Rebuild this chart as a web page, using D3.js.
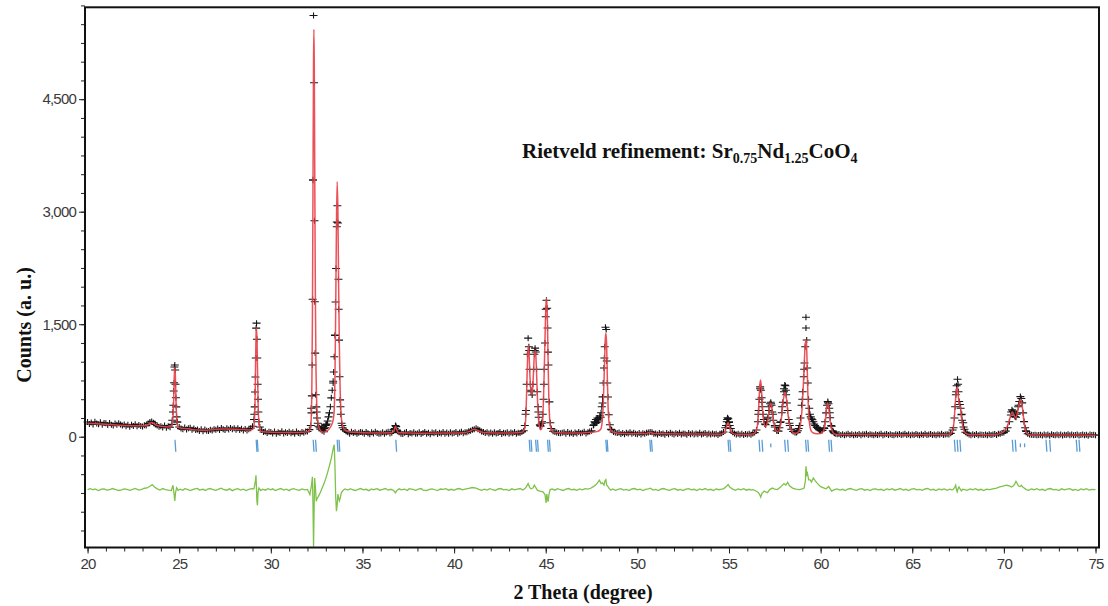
<!DOCTYPE html>
<html><head><meta charset="utf-8">
<script src="https://cdn.jsdelivr.net/npm/d3@7"></script>
<style>html,body{margin:0;padding:0;background:#fff;}svg{display:block}</style>
</head><body>
<svg id="c" width="1108" height="606"></svg>
<script>
// ---------- DATA ----------
const xMajorTicks = [20,25,30,35,40,45,50,55,60,65,70,75];
const yMajorTicks = [0,1500,3000,4500];
const xLabel = "2 Theta (degree)";
const yLabel = "Counts (a. u.)";
const annotationParts = [["Rietveld refinement: Sr",0],["0.75",1],["Nd",0],["1.25",1],["CoO",0],["4",1]];

// observed counts, regular grid 20.0 .. 75.0 step 0.1
const obsStart = 20.0, obsStep = 0.1;
const obsCounts = [
196,170,188,162,198,176,166,192,160,184,
178,156,182,160,150,176,158,180,164,148,
164,140,158,134,160,144,166,138,156,142,
136,152,148,176,196,204,186,162,148,134,
140,124,148,120,138,126,165,610,700,195,
130,108,100,122,96,112,118,92,110,90,
96,76,100,72,96,80,76,94,82,98,
92,110,88,116,98,90,112,96,116,100,
112,94,114,88,106,84,104,82,100,112,
140,300,1450,500,130,88,62,70,48,66,
62,44,70,40,58,48,72,42,60,50,
66,46,58,38,70,50,44,64,52,68,
70,95,380,3420,1800,330,140,100,80,110,
150,210,320,520,740,1350,2800,1700,400,150,
95,72,58,40,66,48,60,38,54,62,
56,38,64,46,34,58,42,66,50,40,
44,60,38,56,66,42,54,95,146,75,
58,40,36,54,62,34,50,44,60,38,
42,58,36,50,64,40,52,34,56,46,
60,36,52,44,62,38,56,40,58,44,
48,62,40,56,66,46,60,58,72,80,
92,100,112,98,86,70,64,50,58,42,
56,38,60,42,50,64,36,54,46,58,
40,56,46,62,38,54,48,64,80,300,
1100,1150,620,700,1150,900,330,150,200,700,
1700,1450,465,110,72,62,55,50,46,52,
58,40,62,44,52,36,56,42,64,46,
54,66,44,60,70,78,150,190,230,210,
260,450,1050,1430,530,160,90,62,55,50,
56,36,50,32,54,44,60,38,52,40,
34,50,30,46,38,52,56,64,58,40,
44,28,50,36,42,26,48,34,52,38,
30,46,36,52,28,44,38,26,48,34,
46,30,42,34,52,28,40,48,30,44,
28,44,32,40,24,38,46,62,120,230,
200,110,60,44,30,40,26,38,24,36,
28,40,26,44,55,90,300,640,460,230,
160,240,400,440,300,150,80,75,190,400,
640,620,350,180,100,70,55,60,110,250,
500,900,1450,717,300,240,200,150,125,100,
80,85,110,318,460,320,140,65,40,32,
36,22,34,20,30,38,24,32,18,30,
24,36,20,32,28,38,22,34,26,18,
34,22,30,38,20,28,36,24,32,22,
20,34,26,36,22,30,38,24,32,20,
30,22,36,26,18,32,24,38,22,28,
36,24,30,20,34,26,38,22,28,34,
30,45,90,250,600,700,430,300,130,60,
44,28,20,32,24,36,18,30,26,22,
30,20,34,24,28,36,22,38,40,48,
55,75,120,200,330,340,270,300,420,535,
451,200,80,40,28,25,22,26,20,24,
26,16,30,20,28,14,32,22,18,28,
20,30,16,26,22,32,18,28,20,24,
28,16,24,30,18,26,14,30,22,26,
20
];

// extra observed points on the peaks [2theta, counts]
const obsPeakPts = [
[24.62,220],[24.66,330],[24.68,420],[24.72,720],[24.74,930],[24.76,956],[24.78,889],[24.82,520],[24.84,398],[24.86,265],[24.88,200],
[29.08,230],[29.12,398],[29.14,597],[29.16,797],[29.18,1049],[29.2,1447],[29.22,1514],[29.24,1300],[29.26,1049],[29.28,700],[29.3,500],[29.32,330],[29.35,200],
[32.18,150],[32.22,318],[32.24,544],[32.26,956],[32.28,1832],[32.3,3425],[32.33,5615],[32.36,4720],[32.38,2880],[32.4,1800],[32.42,1115],[32.45,560],[32.48,398],[32.52,250],[32.56,180],[32.6,140],[32.66,120],[32.72,100],[32.78,133],[32.84,90],[32.9,67],
[32.96,120],[33.0,160],[33.05,170],[33.1,210],[33.15,265],[33.2,318],[33.25,400],[33.3,518],[33.35,620],[33.4,717],[33.43,863],[33.46,1066],[33.5,1354],[33.53,1796],[33.56,2243],[33.6,2863],[33.63,3080],[33.66,2850],[33.69,2100],[33.72,1288],[33.75,800],[33.78,491],[33.82,300],[33.86,180],[33.92,120],
[36.76,110],[36.8,150],[36.84,135],[36.88,90],
[43.86,150],[43.92,350],[43.96,700],[44.0,1100],[44.04,1314],[44.08,1200],[44.12,900],[44.16,700],[44.2,600],[44.26,557],[44.3,700],[44.34,900],[44.38,1100],[44.42,1181],[44.46,1130],[44.5,900],[44.54,600],[44.58,400],[44.62,260],[44.68,160],[44.72,140],[44.78,180],[44.84,300],[44.88,500],[44.92,900],[44.96,1250],[45.0,1600],[45.04,1820],[45.08,1712],[45.12,1128],[45.15,956],[45.2,465],[45.25,186],[45.3,110],
[47.62,160],[47.66,200],[47.7,180],[47.74,230],[47.78,190],[47.82,250],[47.86,210],[47.9,240],[47.95,280],[48.02,320],[48.06,400],[48.1,531],[48.14,717],[48.18,916],[48.22,1200],[48.26,1460],[48.3,1430],[48.33,1009],[48.36,717],[48.4,530],[48.44,292],[48.5,160],[48.56,100],
[54.84,150],[54.88,200],[54.92,252],[54.96,240],[55.0,190],[55.04,150],[55.08,110],
[56.5,90],[56.58,200],[56.62,350],[56.66,500],[56.7,664],[56.74,620],[56.78,520],[56.82,400],[56.86,300],[56.9,230],[56.96,170],[57.0,159],[57.06,200],[57.12,260],[57.18,350],[57.24,440],[57.28,460],[57.32,420],[57.36,330],[57.42,220],[57.5,130],[57.6,80],[57.68,75],[57.75,120],[57.82,200],[57.88,320],[57.94,460],[58.0,600],[58.04,690],[58.08,680],[58.12,560],[58.16,450],[58.2,350],[58.26,230],[58.32,150],[58.4,100],[58.5,70],[58.6,55],[58.68,55],[58.76,80],[58.84,150],[58.9,250],[58.96,420],[59.02,600],[59.08,800],[59.12,982],[59.16,1200],[59.2,1593],[59.24,1290],[59.27,916],[59.3,717],[59.34,500],[59.38,380],[59.42,300],[59.46,265],[59.5,240],[59.55,226],[59.6,200],[59.65,170],[59.7,150],[59.78,130],[59.86,110],[59.94,90],[60.02,80],[60.1,85],[60.18,120],[60.24,200],[60.3,318],[60.35,420],[60.39,469],[60.43,440],[60.47,380],[60.52,252],[60.58,150],[60.66,80],[60.74,50],
[67.25,120],[67.3,250],[67.34,400],[67.38,560],[67.42,680],[67.47,766],[67.52,600],[67.56,469],[67.6,430],[67.64,380],[67.68,292],[67.72,220],[67.78,186],[67.85,100],[67.92,60],
[70.2,120],[70.3,200],[70.38,290],[70.44,358],[70.5,340],[70.55,318],[70.6,270],[70.66,260],[70.72,320],[70.78,400],[70.84,470],[70.9,535],[70.95,510],[71.0,451],[71.05,318],[71.1,203],[71.16,120],[71.22,70],[71.3,40]
];

// calculated profile [2theta, counts]
const calcPts = [
[20.0,180],[21,166],[22,150],[23,145],[23.3,160],[23.5,190],[23.7,160],[24,138],[24.5,130],[24.6,150],[24.66,260],[24.7,500],[24.73,800],[24.76,925],[24.79,820],[24.83,450],[24.87,220],[24.92,140],[25.0,118],[25.5,105],[26,88],[26.5,86],[27,98],[27.5,102],[28,100],[28.5,95],[28.9,90],
[29.05,110],[29.1,200],[29.14,500],[29.17,1000],[29.2,1400],[29.22,1447],[29.25,1250],[29.28,800],[29.31,400],[29.35,180],[29.4,100],[29.5,68],[30,58],[31,55],[31.5,56],
[32.0,65],[32.1,80],[32.15,110],[32.2,220],[32.24,700],[32.27,1600],[32.3,3300],[32.33,5000],[32.35,5430],[32.37,5000],[32.4,3300],[32.43,1900],[32.46,1000],[32.5,480],[32.55,240],[32.62,130],[32.7,85],[32.8,62],[32.9,60],[33.0,70],[33.1,85],[33.2,110],[33.3,150],[33.38,200],[33.45,320],[33.5,800],[33.54,1700],[33.58,2800],[33.62,3400],[33.66,3000],[33.7,2000],[33.74,1200],[33.78,650],[33.83,320],[33.9,160],[34.0,100],[34.2,70],[34.5,58],
[35,52],[36,50],[36.6,52],[36.72,80],[36.8,140],[36.86,100],[36.95,55],[37.5,48],[38.5,47],[39.5,48],[40.5,54],[40.8,68],[41.1,98],[41.4,70],[41.8,52],[42.5,48],[43.2,49],[43.7,58],
[43.85,110],[43.92,300],[43.97,700],[44.01,1050],[44.05,1221],[44.09,1100],[44.14,800],[44.2,600],[44.26,560],[44.32,800],[44.37,1050],[44.42,1150],[44.46,1080],[44.5,850],[44.55,500],[44.6,250],[44.66,130],[44.72,93],[44.78,110],[44.84,250],[44.9,700],[44.96,1300],[45.01,1750],[45.05,1845],[45.09,1600],[45.13,1000],[45.17,500],[45.22,220],[45.28,110],[45.35,75],[45.5,55],
[46.5,48],[47,50],[47.5,58],[47.8,68],[48.0,100],[48.08,200],[48.14,450],[48.2,900],[48.25,1300],[48.28,1380],[48.32,1250],[48.36,800],[48.4,420],[48.45,200],[48.52,110],[48.6,70],[49,46],
[50,40],[50.5,42],[50.65,58],[50.75,55],[50.9,42],[51.5,38],[52.5,37],[53.5,37],[54,35],[54.5,33],[54.75,50],[54.85,120],[54.92,180],[54.96,186],[55.0,165],[55.08,90],[55.2,45],[55.4,32],[56.0,31],[56.3,35],
[56.45,60],[56.55,150],[56.62,400],[56.68,680],[56.72,757],[56.76,680],[56.82,420],[56.88,240],[56.95,150],[57.02,140],[57.1,200],[57.18,330],[57.25,440],[57.29,451],[57.34,380],[57.42,220],[57.5,120],[57.6,70],[57.68,65],[57.76,100],[57.85,220],[57.93,420],[58.0,540],[58.06,588],[58.12,540],[58.2,350],[58.28,190],[58.38,100],[58.5,55],[58.65,45],[58.8,70],[58.9,160],[58.98,350],[59.06,700],[59.12,1050],[59.18,1288],[59.22,1280],[59.26,1000],[59.3,600],[59.35,300],[59.42,130],[59.5,70],[59.6,50],[59.8,40],[60.0,42],[60.15,70],[60.25,180],[60.32,380],[60.38,451],[60.44,400],[60.5,250],[60.58,120],[60.68,55],[60.8,32],[61.0,29],
[62,28],[63,28],[64,27],[65,27],[66,28],[66.9,29],[67.1,40],[67.2,80],[67.28,200],[67.35,450],[67.42,640],[67.47,660],[67.52,520],[67.57,430],[67.62,400],[67.67,300],[67.74,160],[67.82,80],[67.95,40],[68.2,27],[69,26],[69.6,29],
[69.8,45],[70.0,70],[70.15,120],[70.3,220],[70.4,310],[70.47,330],[70.55,290],[70.65,250],[70.75,330],[70.85,460],[70.92,500],[70.98,450],[71.05,300],[71.12,160],[71.2,70],[71.3,35],[71.5,23],[72,22],[73,22],[74,22],[75,21]
];

// difference curve (obs - calc), drawn at an offset
const diffOffset = -705;
const diffPts = [
[20.0,0],[20.15,12],[20.3,-4],[20.4,8],[20.6,-14],[20.75,6],[20.9,10],[21.05,-8],[21.2,-2],[21.35,14],[21.5,4],[21.7,-12],[21.85,-4],[22.0,10],[22.15,2],[22.3,-10],[22.5,6],[22.6,16],[22.8,-6],[22.95,4],[23.1,18],[23.25,22],[23.4,45],[23.53,66],[23.65,35],[23.8,10],[23.95,-6],[24.1,14],[24.25,0],[24.4,-8],[24.57,-14],[24.66,58],[24.72,-60],[24.76,-150],[24.8,-40],[24.86,25],[24.94,-10],
[25.05,6],[25.2,-10],[25.3,12],[25.45,2],[25.6,-14],[25.7,-4],[25.85,10],[26.0,16],[26.1,-6],[26.3,4],[26.45,-12],[26.55,8],[26.7,14],[26.85,-2],[27.0,-10],[27.15,6],[27.3,18],[27.4,4],[27.6,-8],[27.75,10],[27.9,-14],[28.05,2],[28.2,12],[28.35,-6],[28.5,6],[28.65,-12],[28.8,4],[28.95,14],
[29.08,10],[29.16,120],[29.19,190],[29.21,60],[29.24,-150],[29.27,-210],[29.3,-40],[29.35,20],[29.45,-12],[29.55,6],[29.7,-8],[29.85,12],[30.0,-4],[30.1,10],[30.25,-12],[30.4,2],[30.55,14],[30.7,-6],[30.85,6],[31.0,-14],[31.1,4],[31.25,12],[31.4,-2],[31.55,-10],[31.7,8],[31.85,-4],[32.0,2],
[32.13,-66],[32.22,60],[32.27,170],[32.3,-200],[32.33,-760],[32.36,-300],[32.39,155],[32.43,40],[32.48,-155],[32.52,-120],[32.6,-90],[32.7,-40],[32.8,20],[32.9,80],[33.0,150],[33.1,230],[33.2,320],[33.3,420],[33.38,520],[33.43,575],[33.46,597],[33.5,300],[33.54,-100],[33.58,-288],[33.62,-200],[33.66,-60],[33.7,-110],[33.74,-150],[33.78,-120],[33.85,-40],[33.95,-9],
[34.05,8],[34.2,-6],[34.35,12],[34.45,-2],[34.6,-12],[34.8,6],[34.9,14],[35.05,-4],[35.2,4],[35.35,-14],[35.5,8],[35.6,-2],[35.8,12],[35.95,-8],[36.1,2],[36.25,14],[36.4,-6],[36.55,4],[36.7,-12],[36.8,-44],[36.88,-12],[37.0,10],[37.12,-4],[37.3,6],[37.45,-12],[37.55,12],[37.75,2],[37.9,-10],[38.05,6],[38.2,14],[38.3,-6],[38.5,-12],[38.65,4],[38.8,10],[38.95,-2],[39.1,-14],[39.25,8],[39.4,2],[39.55,12],[39.7,-8],[39.85,4],[40.0,-10],[40.15,8],[40.3,14],[40.45,-4],[40.6,6],[40.8,16],[41.0,28],[41.2,20],[41.35,4],[41.5,-10],[41.65,6],[41.8,-6],[41.95,12],[42.1,-2],[42.25,-12],[42.4,8],[42.55,14],[42.7,-4],[42.85,2],[43.0,-12],[43.15,10],[43.3,-4],[43.45,6],[43.6,14],[43.75,-6],[43.85,10],
[43.95,40],[44.04,80],[44.12,30],[44.2,10],[44.3,20],[44.38,60],[44.46,25],[44.55,-10],[44.69,-20],[44.85,-30],[44.96,-66],[45.02,-177],[45.06,-60],[45.09,-110],[45.13,-160],[45.18,-60],[45.24,0],[45.35,10],[45.5,-8],[45.65,12],[45.8,-2],[45.95,-12],[46.1,6],[46.25,14],[46.4,-4],[46.55,4],[46.7,-10],[46.85,10],[47.0,-4],[47.15,12],[47.3,6],[47.45,18],[47.6,40],[47.75,66],[47.85,100],[47.93,124],[48.02,80],[48.1,90],[48.18,60],[48.24,120],[48.28,133],[48.33,60],[48.4,40],[48.44,22],[48.55,-8],
[48.65,8],[48.8,-10],[48.95,4],[49.1,12],[49.25,-6],[49.4,2],[49.55,-14],[49.7,8],[49.85,14],[50.0,-4],[50.15,6],[50.3,-12],[50.45,4],[50.6,10],[50.72,18],[50.85,-6],[51.0,2],[51.15,-12],[51.3,8],[51.45,14],[51.6,-2],[51.75,-10],[51.9,6],[52.05,12],[52.2,-8],[52.35,2],[52.5,-14],[52.65,6],[52.8,12],[52.95,-4],[53.1,4],[53.25,-12],[53.4,10],[53.55,-2],[53.7,14],[53.85,-6],[54.0,4],[54.15,-12],[54.3,8],[54.45,-2],[54.6,6],[54.72,14],[54.85,40],[54.95,66],[55.05,30],[55.2,6],[55.35,-10],[55.5,8],[55.65,-4],[55.8,12],[55.95,-8],[56.1,4],[56.2,-6],[56.31,0],
[56.45,-15],[56.58,-35],[56.66,-60],[56.73,-100],[56.8,-50],[56.92,-20],[57.0,-30],[57.1,-40],[57.22,0],[57.37,20],[57.5,5],[57.64,0],[57.8,30],[58.0,80],[58.1,60],[58.2,97],[58.3,50],[58.47,20],[58.65,5],[58.83,0],[59.0,10],[59.1,20],[59.17,120],[59.2,310],[59.24,200],[59.28,220],[59.35,130],[59.43,130],[59.5,100],[59.6,155],[59.7,120],[59.8,90],[59.89,66],[60.0,40],[60.16,22],[60.3,10],[60.44,40],[60.52,10],[60.6,-20],[60.75,0],
[60.9,10],[61.05,-6],[61.2,4],[61.35,-12],[61.5,8],[61.65,14],[61.8,-2],[61.95,-10],[62.1,6],[62.25,12],[62.4,-8],[62.55,2],[62.7,-14],[62.85,6],[63.0,10],[63.15,-4],[63.3,4],[63.45,-12],[63.6,8],[63.75,-2],[63.9,12],[64.05,-8],[64.2,2],[64.35,14],[64.5,-6],[64.65,4],[64.8,-12],[64.95,6],[65.1,12],[65.25,-4],[65.4,2],[65.55,-10],[65.7,8],[65.85,14],[66.0,-6],[66.15,4],[66.3,-12],[66.45,10],[66.6,-2],[66.75,8],[66.9,-10],[67.05,6],[67.15,-4],[67.22,0],
[67.32,30],[67.37,58],[67.42,-10],[67.45,-30],[67.5,10],[67.55,35],[67.62,5],[67.68,-18],[67.76,5],[67.86,0],[68.0,-10],[68.15,8],[68.3,-2],[68.45,12],[68.6,-8],[68.75,4],[68.9,-12],[69.05,6],[69.21,0],[69.4,10],[69.6,20],[69.77,35],[69.95,45],[70.14,58],[70.3,50],[70.42,35],[70.52,50],[70.6,80],[70.66,110],[70.7,95],[70.75,70],[70.8,48],[70.88,40],[70.95,58],[71.05,30],[71.22,0],
[71.35,-10],[71.5,8],[71.65,-2],[71.8,12],[71.95,-6],[72.1,4],[72.25,-12],[72.4,8],[72.55,14],[72.7,-4],[72.85,2],[73.0,-12],[73.15,10],[73.3,-4],[73.45,6],[73.6,12],[73.75,-8],[73.9,2],[74.05,-12],[74.2,8],[74.35,-2],[74.5,12],[74.65,-6],[74.8,4],[75.0,0]
];

// Bragg reflection positions
const braggPos = [24.77,29.2,29.26,32.31,32.44,33.62,33.72,36.82,44.1,44.2,44.45,44.55,45.1,45.2,48.28,48.35,50.68,50.77,54.95,55.05,56.64,56.8,58.04,58.2,59.18,59.3,60.44,60.57,67.3,67.45,67.6,70.46,70.62,72.3,72.5,73.95,74.1];
const braggWeak = [57.28,70.9,71.13];

// ---------- DRAW ----------
const svg = d3.select("#c");
const x = d3.scaleLinear().domain([19.86,75.19]).range([85,1099]);
const y = d3.scaleLinear().domain([-1477,5725]).range([547.5,7.3]);

const sansFont = "'Liberation Sans', Arial, sans-serif";
const serifFont = "'Liberation Serif', 'Times New Roman', serif";

// difference curve
svg.append("path")
  .datum(diffPts)
  .attr("fill","none").attr("stroke","#7ec24a").attr("stroke-width",1.3)
  .attr("d", d3.line().x(d=>x(d[0])).y(d=>y(diffOffset + d[1])));

// Bragg ticks
svg.append("g").selectAll("line").data(braggPos).join("line")
  .attr("x1",d=>x(d)).attr("x2",d=>x(d)+0.8)
  .attr("y1",y(-40)).attr("y2",y(-200))
  .attr("stroke","#5b9bd5").attr("stroke-width",1.3);
svg.append("g").selectAll("line").data(braggWeak).join("line")
  .attr("x1",d=>x(d)).attr("x2",d=>x(d))
  .attr("y1",y(-90)).attr("y2",y(-140))
  .attr("stroke","#5b9bd5").attr("stroke-width",1.3);

// observed crosses
const obsPts = obsCounts.map((c,i)=>[obsStart + i*obsStep, c]).concat(obsPeakPts);
let cp = "";
obsPts.forEach(d=>{
  const px = x(d[0]), py = y(d[1]);
  cp += `M${(px-4).toFixed(2)},${py.toFixed(2)}h8M${px.toFixed(2)},${(py-3).toFixed(2)}v6`;
});
svg.append("path").attr("d",cp).attr("fill","none").attr("stroke","#151515").attr("stroke-width",1.1);

// calculated profile (on top, as in the reference)
svg.append("path")
  .datum(calcPts)
  .attr("fill","none").attr("stroke","#e8424a").attr("stroke-width",1.5).attr("stroke-opacity",0.92).attr("stroke-linejoin","round")
  .attr("d", d3.line().x(d=>x(d[0])).y(d=>y(d[1])).curve(d3.curveMonotoneX));

// axes
const xAxisMinor = d3.axisBottom(x).tickValues(d3.range(20,76,1)).tickSize(4).tickFormat("");
const xAxisMajor = d3.axisBottom(x).tickValues(xMajorTicks).tickSize(6).tickPadding(5).tickFormat(d3.format("d"));
const yAxisMinor = d3.axisLeft(y).tickValues(d3.range(-1250,5751,250)).tickSize(4).tickFormat("");
const yAxisMajor = d3.axisLeft(y).tickValues(yMajorTicks).tickSize(6).tickPadding(3).tickFormat(d3.format(","));

function styleAxis(g){
  g.select(".domain").remove();
  g.selectAll(".tick line").attr("stroke","#222").attr("stroke-width",1);
  g.selectAll(".tick text").attr("fill","#3a3a3a").attr("font-family",sansFont).attr("font-size",15).attr("letter-spacing","-0.8");
}
svg.append("g").attr("transform","translate(0,547.5)").call(xAxisMinor).call(styleAxis);
svg.append("g").attr("transform","translate(0,547.5)").call(xAxisMajor).call(styleAxis);
svg.append("g").attr("transform","translate(85,0)").call(yAxisMinor).call(styleAxis);
svg.append("g").attr("transform","translate(85,0)").call(yAxisMajor).call(styleAxis);

// frame
svg.append("rect").attr("x",x.range()[0]).attr("y",y.range()[1])
  .attr("width",x.range()[1]-x.range()[0]).attr("height",y.range()[0]-y.range()[1])
  .attr("fill","none").attr("stroke","#111").attr("stroke-width",2);

// axis titles
svg.append("text").attr("x",583).attr("y",599).attr("text-anchor","middle")
  .attr("font-family",serifFont).attr("font-weight","bold").attr("font-size",20).attr("fill","#111")
  .text(xLabel);
svg.append("text").attr("transform","translate(31,325) rotate(-90)").attr("text-anchor","middle")
  .attr("font-family",serifFont).attr("font-weight","bold").attr("font-size",20).attr("fill","#111")
  .text(yLabel);

// annotation
const ann = svg.append("text").attr("x",522).attr("y",158)
  .attr("font-family",serifFont).attr("font-weight","bold").attr("font-size",21).attr("fill","#111");
let prevSub = 0;
annotationParts.forEach(([t,sub])=>{
  const ts = ann.append("tspan").text(t);
  const dy = (sub?5:0) - (prevSub?5:0);
  if (dy) ts.attr("dy",dy);
  if (sub) ts.attr("font-size",14);
  prevSub = sub;
});
</script>
</body></html>
